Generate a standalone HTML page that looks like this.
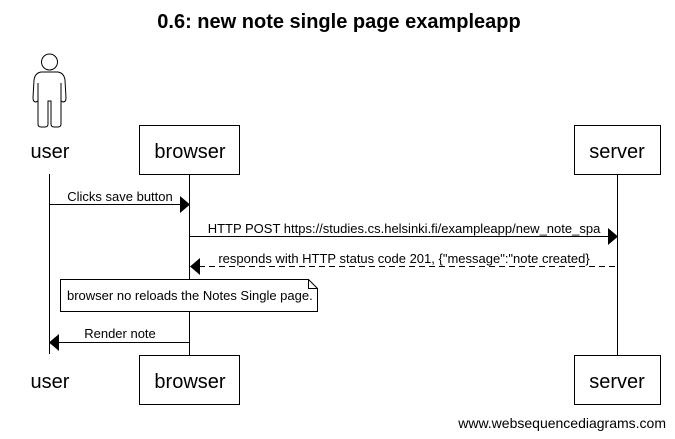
<!DOCTYPE html>
<html><head><style>
body{margin:0;background:#fff;}
svg{display:block;font-family:"Liberation Sans",sans-serif;}
</style></head><body>
<svg width="675" height="439" viewBox="0 0 675 439">
<text x="339" y="28" text-anchor="middle" font-size="20" font-weight="bold">0.6: new note single page exampleapp</text>
<g fill="none" stroke="#000" stroke-width="1">
<circle cx="49.5" cy="62" r="8"/>
<path d="M41 72 Q35 73 34 80 L33 98 Q33 102 36 102 L38 101 L38 83 L38 124 Q38 127 41 127 L45 127 Q48 127 48 124 L48 101 L51 101 L51 124 Q51 127 54 127 L58 127 Q61 127 61 124 L61 83 L61 101 L63 102 Q66 102 66 98 L65 80 Q64 73 58 72 Z"/>
</g>
<g stroke="#000" stroke-width="1" fill="#fff">
<line x1="49.5" y1="174" x2="49.5" y2="354"/>
<line x1="189.5" y1="174" x2="189.5" y2="355"/>
<line x1="617.5" y1="174" x2="617.5" y2="355"/>
<rect x="139.5" y="125.5" width="100" height="49"/>
<rect x="574.5" y="125.5" width="86" height="49"/>
<rect x="139.5" y="355.5" width="100" height="49"/>
<rect x="574.5" y="355.5" width="86" height="49"/>
</g>
<g font-size="20" text-anchor="middle">
<text x="50" y="158">user</text>
<text x="190" y="158">browser</text>
<text x="617" y="158">server</text>
<text x="50" y="388">user</text>
<text x="190" y="388">browser</text>
<text x="617" y="388">server</text>
</g>
<g stroke="#000" stroke-width="1">
<line x1="49.5" y1="204.5" x2="180" y2="204.5"/>
<line x1="189.5" y1="236.5" x2="608" y2="236.5"/>
<line x1="199" y1="266.5" x2="617.5" y2="266.5" stroke-dasharray="6,4"/>
<line x1="59" y1="342.5" x2="189.5" y2="342.5"/>
</g>
<g fill="#000">
<polygon points="180,196 190,204.5 180,213"/>
<polygon points="608,228 618,236.5 608,245"/>
<polygon points="200,258 190,266.5 200,275"/>
<polygon points="59,334 49,342.5 59,351"/>
</g>
<g font-size="13" text-anchor="middle">
<text x="120" y="201">Clicks save button</text>
<text x="404" y="233">HTTP POST https://studies.cs.helsinki.fi/exampleapp/new_note_spa</text>
<text x="404" y="263">responds with HTTP status code 201, {"message":"note created}</text>
<text x="120" y="338">Render note</text>
</g>
<path d="M60.5 279.5 L308.5 279.5 L317.5 288.5 L317.5 311.5 L60.5 311.5 Z" fill="#fff" stroke="#000"/>
<path d="M308.5 279.5 L308.5 288.5 L317.5 288.5" fill="none" stroke="#000"/>
<text x="67" y="300" font-size="13">browser no reloads the Notes Single page.</text>
<text x="666" y="428" font-size="14" text-anchor="end">www.websequencediagrams.com</text>
</svg>
</body></html>
